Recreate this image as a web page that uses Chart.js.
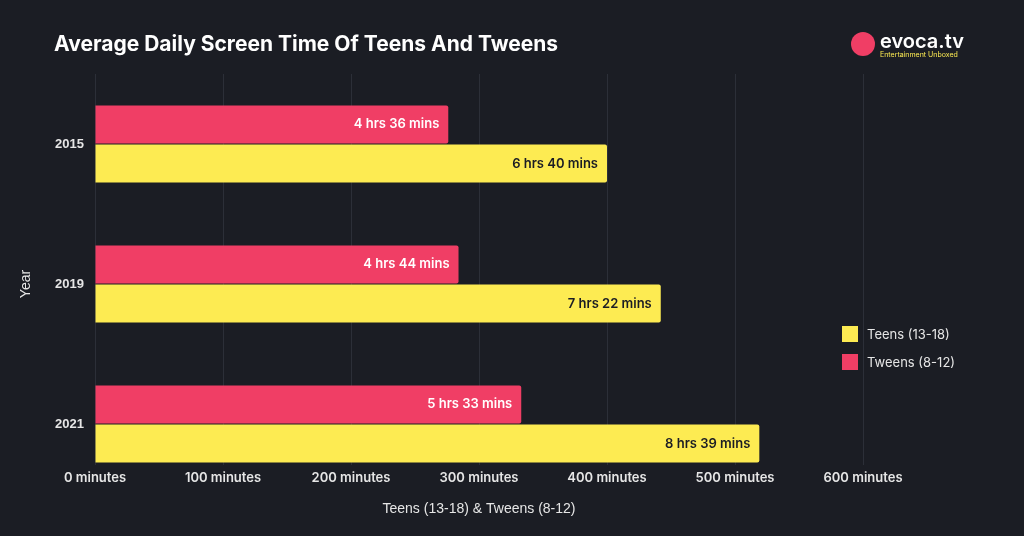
<!DOCTYPE html>
<html>
<head>
<meta charset="utf-8">
<script src="https://cdn.jsdelivr.net/npm/chart.js@4"></script>
<style>
  body { margin: 0; background: #1b1d24; font-family: Inter, "Open Sans", sans-serif; }
  #wrap { position: relative; width: 1024px; height: 536px; }
  h1 { position: absolute; left: 54px; top: 31px; margin: 0; color: #fff; font-size: 21px; font-weight: 700; }
  #logo { position: absolute; left: 851px; top: 30px; color: #fff; }
  #logo .dot { position: absolute; left: 0; top: 2px; width: 24px; height: 24px; border-radius: 50%; background: #f03e65; }
  #logo .name { position: absolute; left: 29px; top: -1px; font-size: 20px; font-weight: 600; white-space: nowrap; }
  #logo .sub { position: absolute; left: 29px; top: 20px; font-size: 7px; color: #fdeb52; white-space: nowrap; }
  #legend { position: absolute; left: 842px; top: 320px; color: #e6e6e6; font-size: 13px; }
  #legend div { display: flex; align-items: center; height: 28px; }
  #legend span { display: inline-block; width: 16px; height: 16px; margin-right: 9px; }
</style>
</head>
<body>
<div id="wrap">
  <canvas id="chart" width="1024" height="536"></canvas>
  <h1>Average Daily Screen Time Of Teens And Tweens</h1>
  <div id="logo"><div class="dot"></div><div class="name">evoca.tv</div><div class="sub">Entertainment Unboxed</div></div>
  <div id="legend">
    <div><span style="background:#fdeb52"></span>Teens (13-18)</div>
    <div><span style="background:#f03e65"></span>Tweens (8-12)</div>
  </div>
</div>
<script>
const years = ["2015", "2019", "2021"];
const tweens = [276, 284, 333];
const teens = [400, 442, 519];
const xTicks = [0, 100, 200, 300, 400, 500, 600];

function fmt(m) {
  return Math.floor(m / 60) + " hrs " + (m % 60) + " mins";
}

const barLabels = {
  id: "barLabels",
  afterDatasetsDraw(chart) {
    const ctx = chart.ctx;
    ctx.save();
    ctx.font = "600 13px Inter, sans-serif";
    ctx.textAlign = "right";
    ctx.textBaseline = "middle";
    chart.data.datasets.forEach((ds, i) => {
      chart.getDatasetMeta(i).data.forEach((bar, j) => {
        ctx.fillStyle = ds.labelColor;
        ctx.fillText(fmt(ds.data[j]), bar.x - 9, bar.y);
      });
    });
    // x tick labels sit over the lower part of the plot, grid stops above them
    const xs = chart.scales.x;
    ctx.fillStyle = "#1b1d24";
    ctx.fillRect(chart.chartArea.left - 5, 465, chart.chartArea.right - chart.chartArea.left + 10, chart.chartArea.bottom - 465);
    ctx.fillStyle = "#e6e6e6";
    ctx.textAlign = "center";
    xTicks.forEach(v => ctx.fillText(v + " minutes", xs.getPixelForValue(v), 478));
    ctx.restore();
  }
};

new Chart(document.getElementById("chart"), {
  type: "bar",
  data: {
    labels: years,
    datasets: [
      { label: "Tweens (8-12)", data: tweens, backgroundColor: "#f03e65", labelColor: "#ffffff" },
      { label: "Teens (13-18)", data: teens, backgroundColor: "#fdeb52", labelColor: "#1b1d24" }
    ]
  },
  options: {
    indexAxis: "y",
    responsive: false,
    animation: false,
    layout: { padding: { top: 74, right: 161, left: 14 } },
    datasets: { bar: { categoryPercentage: 0.56, barPercentage: 0.97, borderRadius: 2 } },
    plugins: { legend: { display: false }, tooltip: { enabled: false } },
    scales: {
      x: {
        min: 0, max: 600,
        afterBuildTicks: s => { s.ticks = xTicks.map(v => ({ value: v })); },
        afterFit: s => { s.height = 42; },
        ticks: { display: false },
        grid: { color: "#2c2f38", drawTicks: false },
        border: { display: false },
        title: { display: true, text: "Teens (13-18) & Tweens (8-12)", color: "#e6e6e6", font: { size: 14 }, padding: { top: 0, bottom: 18 } }
      },
      y: {
        afterFit: s => { s.width = 81; },
        ticks: { color: "#e6e6e6", font: { size: 13, weight: 600 } },
        grid: { display: false },
        border: { display: false },
        title: { display: true, text: "Year", color: "#e6e6e6", font: { size: 14 } }
      }
    }
  },
  plugins: [barLabels]
});
</script>
</body>
</html>
